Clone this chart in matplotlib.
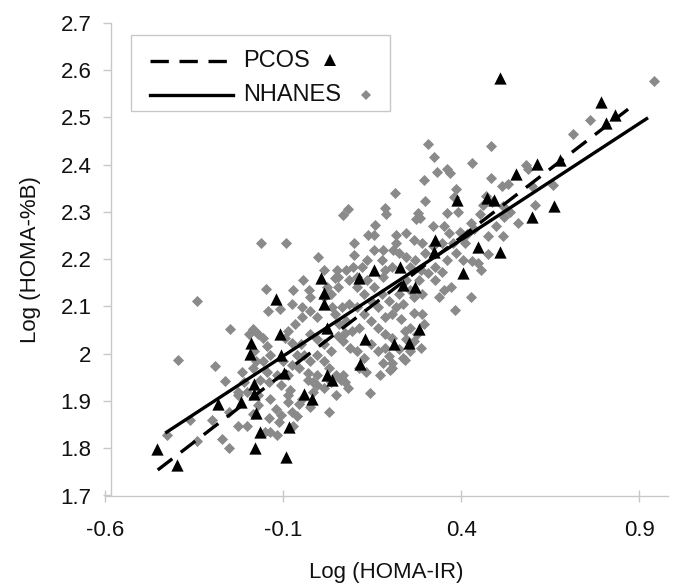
import matplotlib
matplotlib.use('Agg')
import matplotlib.pyplot as plt
from matplotlib.lines import Line2D
from matplotlib.patches import Rectangle
import numpy as np

plt.rcParams['font.family'] = ['Liberation Sans', 'DejaVu Sans']

# PCOS group (black triangles): log HOMA-IR, log HOMA-%B
pcos_x = [-0.454, -0.397, -0.283, -0.218, -0.191, -0.193, -0.183, -0.181, -0.176, -0.166,
          -0.178, -0.121, -0.110, -0.105, -0.098, -0.085, -0.093, -0.041, -0.020, 0.007,
          0.014, 0.015, 0.022, 0.024, 0.037, 0.114, 0.129, 0.115, 0.156, 0.229,
          0.236, 0.271, 0.211, 0.252, 0.282, 0.326, 0.323, 0.389, 0.404, 0.448,
          0.471, 0.491, 0.509, 0.509, 0.554, 0.599, 0.611, 0.660, 0.676, 0.792,
          0.807, 0.832]
pcos_y = [1.798, 1.764, 1.894, 1.898, 2.023, 2.000, 1.935, 1.914, 1.874, 1.835,
          1.800, 2.115, 2.042, 1.997, 1.959, 1.844, 1.782, 1.914, 1.905, 2.159,
          2.128, 2.105, 2.054, 1.955, 1.944, 2.159, 2.030, 1.979, 2.177, 2.184,
          2.145, 2.141, 2.020, 2.023, 2.053, 2.240, 2.215, 2.325, 2.170, 2.225,
          2.330, 2.325, 2.215, 2.584, 2.379, 2.290, 2.402, 2.313, 2.409, 2.533,
          2.488, 2.504]

# NHANES group (grey diamonds)
nhanes_x = [0.940, 0.760, 0.713, 0.306, 0.323, 0.484, 0.431, 0.331, 0.361, 0.369,
            0.294, 0.484, 0.582, 0.586, 0.514, 0.531, 0.599, 0.656, 0.386, 0.380,
            0.297, 0.214, 0.468, 0.486, 0.608, 0.558, 0.521, 0.451, 0.426, 0.392,
            0.361, 0.279, 0.284, 0.274, 0.186, 0.189, 0.082, 0.067, 0.321, 0.351,
            0.366, 0.396, 0.416, 0.496, 0.516, 0.476, 0.436, 0.246, 0.216, 0.159,
            0.156, 0.137, 0.216, 0.208, 0.100, 0.099, 0.266, 0.290, 0.298, 0.321,
            0.346, 0.376, 0.386, 0.406, 0.431, 0.456, 0.446, 0.476, 0.411, 0.361,
            0.346, 0.326, 0.326, 0.351, 0.371, 0.426, 0.381, 0.336, 0.306, 0.286,
            0.281, 0.291, 0.266, 0.266, 0.291, 0.296, 0.276, 0.286, 0.241, 0.206,
            0.201, 0.181, 0.171, 0.241, 0.231, 0.216, 0.196, 0.176, 0.156, 0.136,
            0.181, 0.246, 0.256, 0.226, 0.236, 0.206, 0.186, 0.166, 0.146, 0.126,
            0.106, 0.086, 0.096, 0.076, 0.052, 0.046, -0.003, -0.043, -0.028, -0.073,
            -0.148, -0.143, -0.108, -0.163, -0.091, -0.343, -0.248, -0.394, -0.290, -0.263,
            -0.228, -0.253, -0.300, -0.362, -0.427, -0.343, -0.273, -0.251, -0.226, -0.201,
            -0.186, -0.166, -0.186, -0.176, -0.181, -0.196, -0.186, -0.171, -0.156, -0.146,
            -0.136, -0.156, -0.146, -0.141, -0.136, -0.141, -0.151, -0.136, -0.116, -0.111,
            -0.071, -0.076, -0.056, -0.026, -0.046, -0.016, -0.031, -0.016, -0.006, -0.031,
            -0.056, -0.086, -0.106, -0.081, -0.116, -0.101, -0.076, -0.061, -0.041, -0.026,
            -0.006, 0.014, 0.029, 0.048, 0.063, 0.073, 0.029, 0.048, 0.083, 0.143,
            0.127, 0.108, 0.087, 0.067, 0.054, 0.073, 0.093, 0.113, 0.146, 0.166,
            0.186, 0.206, 0.146, 0.166, 0.186, 0.196, 0.226, 0.256, 0.266, 0.246,
            0.256, 0.076, 0.056, 0.046, 0.036, 0.066, 0.086, 0.106, 0.126, -0.006,
            -0.026, -0.046, -0.066, -0.086, -0.096, -0.076, -0.051, -0.026, -0.006, 0.014,
            0.034, -0.076, -0.046, -0.026, 0.014, 0.034, 0.054, 0.024, 0.014, 0.054,
            0.106, 0.136, 0.122, 0.156, 0.176, 0.186, 0.206, 0.246, 0.256, 0.271,
            0.226, 0.181, -0.006, 0.014, 0.034, -0.086, -0.061, -0.086, 0.068, 0.113,
            0.133, 0.206, 0.236, -0.226, -0.211, -0.216, -0.201, -0.171, -0.171, -0.121,
            -0.106, 0.516, 0.536, 0.461]
nhanes_y = [2.576, 2.495, 2.464, 2.443, 2.415, 2.440, 2.403, 2.384, 2.391, 2.383,
            2.368, 2.372, 2.400, 2.391, 2.354, 2.359, 2.354, 2.357, 2.348, 2.332,
            2.323, 2.339, 2.334, 2.320, 2.314, 2.277, 2.290, 2.295, 2.277, 2.300,
            2.298, 2.298, 2.286, 2.284, 2.309, 2.295, 2.305, 2.293, 2.270, 2.270,
            2.256, 2.257, 2.254, 2.270, 2.248, 2.248, 2.263, 2.255, 2.252, 2.272,
            2.250, 2.252, 2.234, 2.220, 2.234, 2.209, 2.241, 2.234, 2.213, 2.227,
            2.233, 2.234, 2.213, 2.198, 2.195, 2.177, 2.191, 2.211, 2.234, 2.198,
            2.173, 2.155, 2.184, 2.135, 2.141, 2.120, 2.093, 2.120, 2.170, 2.177,
            2.155, 2.127, 2.120, 2.087, 2.084, 2.062, 2.041, 2.012, 1.987, 1.980,
            1.966, 1.980, 1.955, 2.048, 2.073, 2.098, 2.112, 2.127, 2.141, 2.155,
            2.162, 2.155, 2.134, 2.127, 2.105, 2.084, 2.077, 2.098, 2.112, 2.127,
            2.141, 2.155, 2.184, 2.177, 2.177, 2.159, 2.205, 2.155, 2.134, 2.134,
            2.137, 2.091, 2.095, 2.234, 2.235, 2.111, 2.053, 1.987, 1.973, 1.942,
            1.919, 1.877, 1.859, 1.859, 1.828, 1.816, 1.819, 1.801, 1.846, 1.846,
            1.873, 1.944, 1.969, 1.984, 2.005, 2.041, 2.052, 2.041, 2.034, 2.016,
            1.998, 1.984, 1.962, 1.941, 1.905, 1.864, 1.834, 1.834, 1.827, 1.855,
            1.848, 1.877, 1.894, 1.887, 1.905, 1.919, 1.944, 1.941, 1.955, 1.959,
            1.969, 1.955, 1.934, 1.923, 1.955, 1.984, 1.977, 1.998, 1.998, 1.984,
            1.998, 1.984, 1.969, 1.955, 1.944, 1.941, 1.877, 1.912, 1.927, 1.916,
            1.991, 2.005, 2.012, 2.027, 2.037, 2.044, 2.048, 2.055, 2.070, 2.055,
            2.041, 2.034, 2.020, 2.005, 2.012, 1.995, 2.009, 2.005, 2.027, 2.030,
            2.055, 2.070, 2.063, 2.084, 2.098, 2.098, 2.105, 2.098, 2.084, 2.077,
            2.091, 2.077, 2.063, 2.048, 2.034, 2.023, 2.020, 2.041, 2.030, 2.020,
            2.005, 2.105, 2.098, 2.120, 2.120, 2.127, 2.141, 2.141, 2.177, 2.162,
            2.162, 2.198, 2.184, 2.220, 2.198, 2.177, 2.184, 2.205, 2.184, 2.198,
            2.212, 2.220, 1.934, 1.927, 1.941, 1.912, 1.869, 1.898, 1.955, 1.969,
            1.962, 1.969, 1.991, 1.912, 1.941, 1.962, 1.919, 1.912, 1.891, 1.884,
            1.870, 2.313, 2.300, 2.315]

# regression lines (end points)
pcos_fit_x = [-0.452, 0.868]
pcos_fit_y = [1.754, 2.517]
nhanes_fit_x = [-0.427, 0.920]
nhanes_fit_y = [1.834, 2.497]

xtick_vals = [-0.6, -0.1, 0.4, 0.9]
xtick_labels = ['-0.6', '-0.1', '0.4', '0.9']
ytick_vals = [1.7, 1.8, 1.9, 2.0, 2.1, 2.2, 2.3, 2.4, 2.5, 2.6, 2.7]
ytick_labels = ['1.7', '1.8', '1.9', '2', '2.1', '2.2', '2.3', '2.4', '2.5', '2.6', '2.7']

W, H = 673, 584
fig = plt.figure(figsize=(W / 100, H / 100), dpi=100)
ax = fig.add_axes([105 / W, 1 - 495.5 / H, 563 / W, 472.8 / H])

grey = '#8a8a8a'
axis_col = '#c8c8c8'

ax.scatter(nhanes_x, nhanes_y, marker='D', s=32, color=grey, linewidths=0, zorder=2)
ax.scatter(pcos_x, pcos_y, marker='^', s=78, color='black', linewidths=0, zorder=3)
ax.plot(nhanes_fit_x, nhanes_fit_y, color='black', lw=2.4, zorder=4)
ax.plot(pcos_fit_x, pcos_fit_y, color='black', lw=2.4, dashes=(5.5, 3.2), zorder=4)

ax.set_xlim(-0.6, 0.98)
ax.set_ylim(1.7, 2.7)
ax.set_xticks(xtick_vals)
ax.set_xticklabels(xtick_labels)
ax.set_yticks(ytick_vals)
ax.set_yticklabels(ytick_labels)

for s in ['top', 'right']:
    ax.spines[s].set_visible(False)
ax.spines['left'].set_position(('data', -0.583))
for s in ['left', 'bottom']:
    ax.spines[s].set_color(axis_col)
    ax.spines[s].set_linewidth(1.0)

ax.tick_params(axis='y', direction='out', length=6, width=1, color=axis_col,
               labelsize=16, pad=8, labelcolor='#111111')
ax.tick_params(axis='x', direction='inout', length=8, width=1, color=axis_col,
               labelsize=16, pad=14, labelcolor='#111111')

ax.set_xlabel('Log (HOMA-IR)', fontsize=16, labelpad=15, color='#111111')
ax.set_ylabel('Log (HOMA-%B)', fontsize=16, labelpad=14, color='#111111')

# hand-built legend: line, label, then marker
def fx(p):
    return p / W

def fy(p):
    return 1 - p / H

fig.add_artist(Rectangle((fx(131), fy(111)), fx(390) - fx(131), fy(35) - fy(111),
                         transform=fig.transFigure, facecolor='white',
                         edgecolor=axis_col, lw=1.0, zorder=5))
fig.add_artist(Line2D([fx(150), fx(233)], [fy(61), fy(61)], transform=fig.transFigure,
                      color='black', lw=2.4, dashes=(5.5, 3.2), zorder=6))
fig.add_artist(Line2D([fx(150), fx(233)], [fy(95), fy(95)], transform=fig.transFigure,
                      color='black', lw=2.4, zorder=6))
fig.text(fx(243), fy(61), 'PCOS', fontsize=17, va='center', ha='left', color='#111111', zorder=6)
fig.text(fx(243), fy(95), 'NHANES', fontsize=17, va='center', ha='left', color='#111111', zorder=6)
fig.add_artist(Line2D([fx(330)], [fy(60)], transform=fig.transFigure, marker='^',
                      markersize=9, color='black', markeredgewidth=0, zorder=6))
fig.add_artist(Line2D([fx(366)], [fy(95)], transform=fig.transFigure, marker='D',
                      markersize=5.5, color=grey, markeredgewidth=0, zorder=6))

fig.savefig('out.png', dpi=100)
